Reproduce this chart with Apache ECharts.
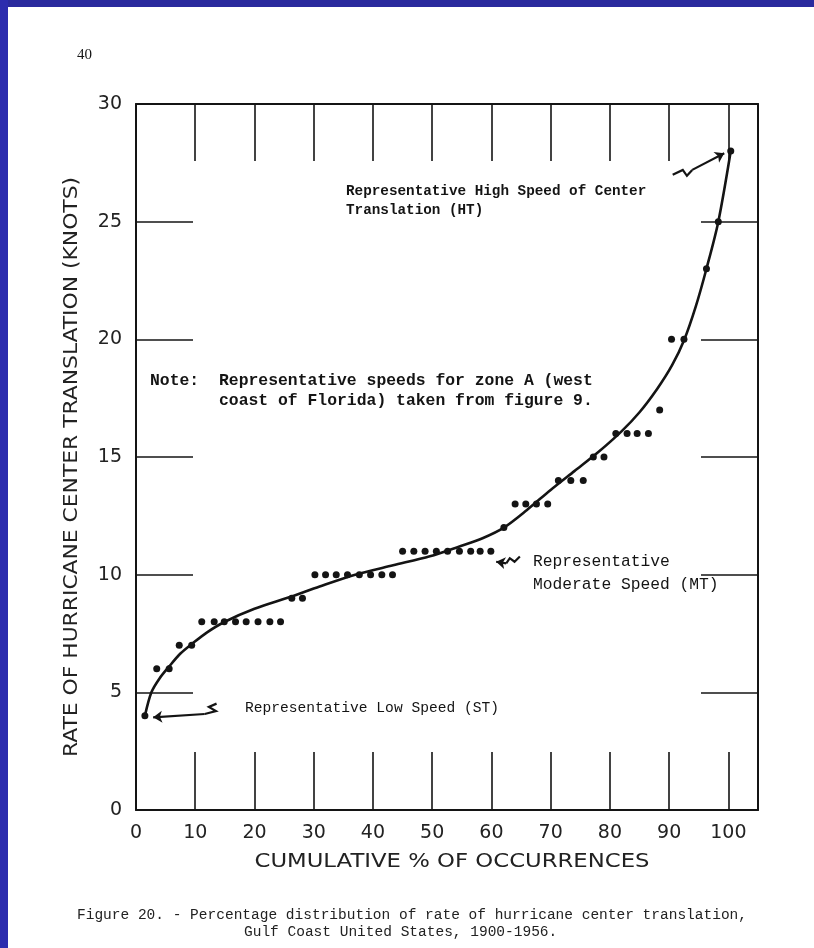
<!DOCTYPE html>
<html>
<head>
<meta charset="utf-8">
<script src="https://cdn.jsdelivr.net/npm/echarts@6/dist/echarts.min.js"></script>
<style>
  html, body { margin: 0; padding: 0; background: #fff; }
  #chart { width: 814px; height: 948px; }
</style>
</head>
<body>
<div id="chart"></div>
<script>
var pctX = [1.5, 3.5, 5.6, 7.3, 9.4,
  11.1, 13.2, 14.9, 16.8, 18.6, 20.6, 22.6, 24.4,
  26.3, 28.1,
  30.2, 32.0, 33.8, 35.7, 37.7, 39.6, 41.5, 43.3,
  45.0, 46.9, 48.8, 50.7, 52.6, 54.6, 56.5, 58.1, 59.9,
  62.1, 64.0, 65.8, 67.6, 69.5, 71.3, 73.4, 75.5, 77.2, 79.0,
  81.0, 82.9, 84.6, 86.5, 88.4, 90.4, 92.5, 96.3, 98.3, 100.4];
var knotsY = [4, 6, 6, 7, 7,
  8, 8, 8, 8, 8, 8, 8, 8,
  9, 9,
  10, 10, 10, 10, 10, 10, 10, 10,
  11, 11, 11, 11, 11, 11, 11, 11, 11,
  12, 13, 13, 13, 13, 14, 14, 14, 15, 15,
  16, 16, 16, 16, 17, 20, 20, 23, 25, 28];

// hand-fitted curve through the points
var curveX = [1.5, 2.6, 4.0, 5.6, 7.5, 9.4, 12, 15, 20, 26, 31, 37, 43.4, 49.6, 54.6, 58.5,
  62.1, 66, 70, 74, 78, 82, 85, 88, 90.5, 92.5, 94.5, 96.3, 98.3, 100.4];
var curveY = [4, 5, 5.6, 6.1, 6.65, 7.05, 7.55, 8.0, 8.55, 9.05, 9.5, 10, 10.4, 10.78, 11.2, 11.55,
  12, 12.75, 13.6, 14.4, 15.2, 16.1, 16.9, 17.9, 18.9, 19.95, 21.4, 23, 25, 28];

// axis ranges
var xMin = 0, xMax = 105, xStep = 10;
var yMin = 0, yMax = 30, yStep = 5;

// annotation arrows (data coords), last segment gets the head
var arrowHT = [[90.6, 26.99], [92.3, 27.2], [93.0, 26.95], [93.9, 27.2], [99.3, 27.91]];
var arrowMT = [[64.8, 10.77], [63.9, 10.55], [63.1, 10.7], [62.5, 10.48], [60.8, 10.55]];
var arrowST = [[13.6, 4.52], [12.3, 4.38], [13.5, 4.2], [11.6, 4.08], [2.9, 3.94]];

var chart = echarts.init(document.getElementById("chart"));

var ink = "#141414";
var leroy = "DejaVu Sans";
var typewriter = "Liberation Mono";

function pairs(xs, ys) {
  return xs.map(function (x, i) { return [x, ys[i]]; });
}

// stretch factor so lettering spans the same length as the scan
var measureCtx = document.createElement("canvas").getContext("2d");
function stretch(text, font, target) {
  measureCtx.font = font;
  return target / measureCtx.measureText(text).width;
}

function textEl(str, x, y, font, opts) {
  opts = opts || {};
  return {
    type: "text",
    x: x,
    y: y,
    rotation: opts.rotation || 0,
    scaleX: opts.scaleX || 1,
    silent: true,
    style: {
      text: str,
      font: font,
      fill: opts.fill || ink,
      lineHeight: opts.lineHeight,
      align: opts.align || "left",
      textAlign: opts.align || "left",
      verticalAlign: opts.valign || "middle",
      textVerticalAlign: opts.valign || "middle"
    }
  };
}

var yName = "RATE OF HURRICANE CENTER TRANSLATION (KNOTS)";
var xName = "CUMULATIVE % OF OCCURRENCES";
var nameFont = "19px '" + leroy + "'";

function frameX(pos, tickLen, labels) {
  return {
    type: "value",
    position: pos,
    min: xMin,
    max: xMax,
    interval: xStep,
    axisLine: { show: true, onZero: false, lineStyle: { color: ink, width: 2 } },
    axisTick: { show: true, inside: true, length: tickLen, lineStyle: { color: ink, width: 1.6 } },
    axisLabel: {
      show: labels,
      showMaxLabel: false,
      margin: 14,
      color: "#222",
      fontFamily: leroy,
      fontSize: 19
    },
    splitLine: { show: false }
  };
}

function frameY(pos, tickLen, labels) {
  return {
    type: "value",
    position: pos,
    min: yMin,
    max: yMax,
    interval: yStep,
    axisLine: { show: true, onZero: false, lineStyle: { color: ink, width: 2 } },
    axisTick: { show: true, inside: true, length: tickLen, lineStyle: { color: ink, width: 1.6 } },
    axisLabel: {
      show: labels,
      margin: 14,
      color: "#222",
      fontFamily: leroy,
      fontSize: 19
    },
    splitLine: { show: false }
  };
}

var option = {
  backgroundColor: "#ffffff",
  animation: false,
  grid: { left: 136, right: 56, top: 104, bottom: 138 },
  xAxis: [frameX("bottom", 58, true), frameX("top", 57, false)],
  yAxis: [frameY("left", 57, true), frameY("right", 57, false)],
  series: [
    {
      type: "line",
      data: pairs(curveX, curveY),
      smooth: 0.3,
      symbol: "none",
      lineStyle: { color: ink, width: 2.6 },
      z: 3
    },
    {
      type: "scatter",
      data: pairs(pctX, knotsY),
      symbolSize: 7,
      itemStyle: { color: ink, opacity: 1 },
      z: 4
    },
    {
      // squiggle bodies of the pointers
      type: "lines",
      coordinateSystem: "cartesian2d",
      polyline: true,
      silent: true,
      lineStyle: { color: ink, width: 2.2, opacity: 1 },
      data: [
        { coords: arrowHT.slice(0, 4) },
        { coords: arrowMT.slice(0, 4) },
        { coords: arrowST.slice(0, 4) }
      ],
      z: 5
    },
    {
      // heads
      type: "lines",
      coordinateSystem: "cartesian2d",
      silent: true,
      symbol: ["none", "arrow"],
      symbolSize: 9,
      lineStyle: { color: ink, width: 2.2, opacity: 1, curveness: 0 },
      data: [
        { coords: arrowHT.slice(3) },
        { coords: arrowMT.slice(3) },
        { coords: arrowST.slice(3) }
      ],
      z: 5
    }
  ],
  graphic: [
    // blue slide border
    { type: "rect", shape: { x: 0, y: 0, width: 814, height: 7 }, style: { fill: "#2a2a9e" }, silent: true },
    { type: "rect", shape: { x: 0, y: 0, width: 8, height: 948 }, style: { fill: "#2c2cae" }, silent: true },

    textEl("40", 77, 55, "15px 'Liberation Serif'"),

    textEl(yName, 72, 467, nameFont, { rotation: Math.PI / 2, align: "center", scaleX: stretch(yName, nameFont, 580), fill: "#222" }),
    textEl(xName, 452, 862, nameFont, { align: "center", scaleX: stretch(xName, nameFont, 395), fill: "#222" }),

    textEl("Representative High Speed of Center\nTranslation (HT)", 346, 182, "bold 14.3px '" + typewriter + "'", { valign: "top", lineHeight: 19 }),
    textEl("Note:", 150, 381, "bold 16.4px '" + typewriter + "'"),
    textEl("Representative speeds for zone A (west\ncoast of Florida) taken from figure 9.", 219, 371, "bold 16.4px '" + typewriter + "'", { valign: "top", lineHeight: 20 }),
    textEl("Representative\nModerate Speed (MT)", 533, 550, "16.3px '" + typewriter + "'", { valign: "top", lineHeight: 23 }),
    textEl("Representative Low Speed (ST)", 245, 708, "14.6px '" + typewriter + "'"),

    textEl("Figure 20. - Percentage distribution of rate of hurricane center translation,", 77, 915, "14.5px '" + typewriter + "'", { fill: "#222" }),
    textEl("Gulf Coast United States, 1900-1956.", 244, 932, "14.5px '" + typewriter + "'", { fill: "#222" })
  ]
};

chart.setOption(option);

window.onresize = function () {
  chart.resize();
};
</script>
</body>
</html>
